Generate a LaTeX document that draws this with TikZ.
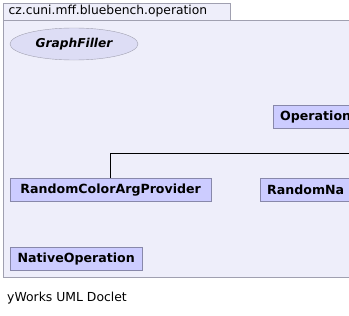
\documentclass[tikz,border=0pt]{standalone}
\usepackage{fontspec}
\setmainfont{DejaVu Sans}
\usetikzlibrary{shapes.geometric}

\definecolor{pkgfill}{RGB}{238,238,250}
\definecolor{pkgline}{RGB}{160,160,176}
\definecolor{clsfill}{RGB}{204,204,255}
\definecolor{clsline}{RGB}{136,136,170}
\definecolor{ifcfill}{RGB}{221,221,245}

\begin{document}
\begin{tikzpicture}[x=1pt, y=-1pt,
    cls/.style={draw=clsline, fill=clsfill, anchor=north west,
        font=\fontsize{12.6}{14}\selectfont\bfseries,
        inner xsep=7pt, inner ysep=0pt, minimum height=23pt},
    clipped/.style={cls, text width=110pt, align=left}]
    \useasboundingbox (0,0) rectangle (349,316);
    \begin{scope}
    \clip (0,0) rectangle (349,316);
    % package frame (open to the right) and its tab
    \fill [pkgfill] (3,20) rectangle (380,277);
    \draw [pkgline] (380,20) -- (3,20) -- (3,277) -- (380,277);
    \draw [draw=pkgline, fill=pkgfill] (3,3) rectangle (230,20);
    \node [anchor=west, inner sep=0pt, font=\fontsize{12.3}{14}\selectfont] (pkgname) at (8.5,11.5) {cz.cuni.mff.bluebench.operation};

    % classes
    \node [ellipse, draw=pkgline, fill=ifcfill, minimum width=128pt, minimum height=32pt, inner sep=0pt,
        font=\fontsize{12.2}{14}\selectfont\bfseries\itshape] (graphfiller) at (74,44) {GraphFiller};
    \node [clipped] (operation) at (273,105) {Operation};
    \node [cls, minimum width=201pt] (colorprov) at (10,178) {RandomColorArgProvider};
    \node [clipped] (nameprov) at (260,178) {RandomNa};
    \node [cls, minimum width=132pt] (nativeop) at (10,247) {NativeOperation};

    \coordinate (edgeout) at (380,153);
    \draw [line width=1pt] (colorprov.north) |- (edgeout);
    \end{scope}

    \node [anchor=west, inner sep=0pt, font=\fontsize{12.4}{14}\selectfont] (doclet) at (7,298) {yWorks UML Doclet};
\end{tikzpicture}
\end{document}
